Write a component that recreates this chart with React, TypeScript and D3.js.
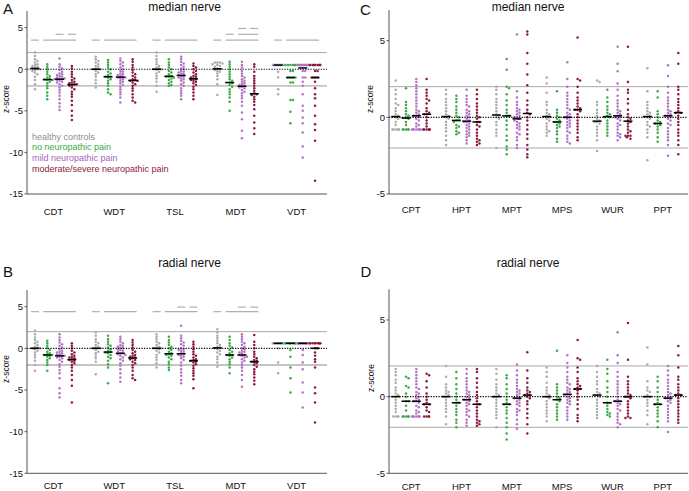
import React from 'react';
import * as d3 from 'd3';

// ---------- categories / legend ----------
const groupNames = ['healthy controls', 'no neuropathic pain', 'mild neuropathic pain', 'moderate/severe neuropathic pain'];
const dotColors = ['#ababab', '#3aab48', '#b274c6', '#8c1a40'];
const legendColors = ['#8e8e8e', '#3aab48', '#a865bd', '#8c1a40'];
const detectionTests = ['CDT', 'WDT', 'TSL', 'MDT', 'VDT'];
const painTests = ['CPT', 'HPT', 'MPT', 'MPS', 'WUR', 'PPT'];
const ticksDetection = [5, 0, -5, -10, -15];
const ticksPain = [5, 0, -5];

// ---------- A: median nerve, detection thresholds ----------
const medCDT = [
  [2.0, 1.6, 1.2, 1.0, 0.8, 0.6, 0.5, 0.4, 0.3, 0.2, 0.1, 0, 0, -0.1, -0.2, -0.4, -0.6, -0.9, -1.3, -1.8, -2.4],
  [0.6, 0.3, 0, -0.3, -0.6, -0.8, -1.0, -1.1, -1.2, -1.3, -1.3, -1.5, -1.7, -2.0, -2.3, -2.8, -3.2, -3.6],
  [1.3, 0.6, 0.3, 0.1, -0.1, -0.3, -0.5, -0.6, -0.7, -0.8, -0.9, -1.0, -1.1, -1.1, -1.2, -1.2, -1.3, -1.4, -1.5, -1.6, -1.8, -2.0, -2.2, -2.5, -2.8, -3.2, -3.6, -4.1, -4.5, -4.9],
  [0.4, 0.1, -0.3, -0.6, -0.9, -1.1, -1.3, -1.5, -1.6, -1.7, -1.8, -1.8, -1.9, -2.0, -2.2, -2.4, -2.7, -3.0, -3.3, -3.8, -4.3, -5.0, -5.6, -6.1],
];
const medWDT = [
  [1.5, 1.2, 1.0, 0.8, 0.6, 0.4, 0.3, 0.1, 0, 0, 0, -0.2, -0.4, -0.6, -0.9, -1.3, -1.7, -2.2],
  [1.1, 0.8, 0.5, 0.2, 0, -0.3, -0.5, -0.7, -0.9, -0.9, -1.0, -1.2, -1.4, -1.7, -2.0, -2.4, -2.8, -3.0],
  [1.3, 1.0, 0.8, 0.6, 0.4, 0.2, 0, -0.2, -0.3, -0.5, -0.6, -0.7, -0.8, -0.9, -1.0, -1.0, -1.1, -1.2, -1.4, -1.5, -1.7, -1.9, -2.1, -2.4, -2.7, -3.0, -3.4, -4.0],
  [1.2, 0.9, 0.5, 0.2, -0.1, -0.4, -0.6, -0.8, -1.0, -1.2, -1.3, -1.4, -1.4, -1.6, -1.8, -2.0, -2.3, -2.6, -3.0, -3.4, -3.8, -4.0],
];
const medTSL = [
  [2.0, 1.6, 1.2, 0.9, 0.6, 0.4, 0.2, 0.1, 0, 0, -0.1, -0.3, -0.5, -0.8, -1.1, -1.5, -2.0, -2.7],
  [1.2, 0.8, 0.5, 0.2, 0, -0.2, -0.4, -0.6, -0.8, -0.9, -0.9, -1.0, -1.1, -1.3, -1.5, -1.7, -1.9, -2.0],
  [1.5, 1.2, 0.9, 0.7, 0.5, 0.3, 0.1, 0, -0.2, -0.3, -0.4, -0.5, -0.6, -0.7, -0.8, -0.9, -1.0, -1.1, -1.2, -1.4, -1.6, -1.8, -2.0, -2.3, -2.6, -2.9, -3.2, -3.6],
  [0.7, 0.4, 0.2, 0, -0.2, -0.4, -0.6, -0.8, -0.9, -1.0, -1.1, -1.2, -1.3, -1.4, -1.5, -1.7, -1.9, -2.1, -2.4, -2.8, -3.2, -3.6],
];
const medMDT = [
  [0.8, 0.8, 0.8, 0.7, 0.6, 0.5, 0.4, 0.3, 0.1, 0, -0.1, -0.2, -0.3, -0.5, -0.8, -1.2, -1.8, -3.1],
  [0.9, 0.6, 0.3, 0, -0.3, -0.6, -0.9, -1.2, -1.4, -1.6, -1.7, -1.9, -2.1, -2.4, -2.7, -3.0, -3.4, -3.9, -5.0],
  [0.9, 0.5, 0.2, -0.2, -0.5, -0.8, -1.0, -1.2, -1.4, -1.5, -1.7, -1.8, -1.9, -2.0, -2.1, -2.2, -2.3, -2.5, -2.7, -2.9, -3.2, -3.5, -3.9, -4.4, -5.2, -6.0, -7.4, -8.3],
  [0.6, 0.3, -0.3, -0.8, -1.1, -1.4, -1.7, -2.0, -2.3, -2.6, -2.9, -3.0, -3.1, -3.3, -3.6, -3.9, -4.3, -4.8, -5.6, -6.4, -7.1, -7.8],
];
const medVDT = [
  [0.5, 0.5, 0.5, 0.5, 0.5, 0.5, 0.5, 0.5, 0.5, 0.5, 0.5, 0.5, 0.5, 0.5, -0.3, -1.0, -2.4, -3.0],
  [0.5, 0.5, 0.5, 0.5, 0.5, 0.5, -0.2, -0.2, -1.0, -1.0, -1.0, -1.0, -1.6, -1.6, -3.7, -3.7, -5.1, -6.5],
  [0.5, 0.5, 0.5, 0.5, 0.5, 0.5, 0.5, 0.5, 0.5, 0.5, 0.5, 0.5, 0.5, 0.5, -0.2, -0.2, -1.0, -1.0, -1.5, -2.0, -3.0, -4.4, -5.0, -5.8, -6.5, -7.6, -9.3, -10.6],
  [0.5, 0.5, 0.5, 0.5, 0.5, 0.5, 0.5, 0.5, 0.5, 0.5, -0.2, -0.2, -1.0, -1.0, -1.0, -1.5, -2.3, -3.0, -3.5, -4.4, -5.6, -6.6, -7.3, -8.6, -13.4],
];

// ---------- B: radial nerve, detection thresholds ----------
const radCDT = [
  [2.1, 1.7, 1.3, 1.0, 0.8, 0.6, 0.4, 0.2, 0.1, 0, 0, -0.1, -0.3, -0.5, -0.8, -1.1, -1.5, -2.0, -2.7],
  [0.9, 0.6, 0.3, 0, -0.2, -0.4, -0.6, -0.7, -0.8, -0.8, -0.9, -1.0, -1.2, -1.4, -1.7, -2.0, -2.7],
  [1.7, 1.3, 1.0, 0.7, 0.5, 0.3, 0.1, -0.1, -0.3, -0.4, -0.5, -0.6, -0.7, -0.8, -0.9, -0.9, -1.0, -1.1, -1.2, -1.4, -1.6, -1.9, -2.2, -2.6, -3.0, -3.6, -4.8, -5.4, -5.9],
  [0.6, 0.3, 0, -0.3, -0.5, -0.7, -0.9, -1.0, -1.1, -1.2, -1.3, -1.4, -1.5, -1.6, -1.8, -2.0, -2.3, -2.7, -3.2, -3.8, -4.5, -6.5],
];
const radWDT = [
  [1.9, 1.5, 1.1, 0.8, 0.6, 0.4, 0.2, 0.1, 0, 0, -0.2, -0.4, -0.6, -0.9, -1.2, -1.6, -3.1],
  [1.5, 1.1, 0.8, 0.5, 0.3, 0.1, -0.1, -0.3, -0.4, -0.5, -0.6, -0.8, -1.0, -1.2, -1.5, -1.9, -2.3, -4.2],
  [1.4, 1.1, 0.8, 0.6, 0.4, 0.3, 0.2, 0.1, 0, -0.1, -0.2, -0.3, -0.4, -0.6, -0.6, -0.7, -0.8, -0.9, -1.1, -1.3, -1.5, -1.8, -2.1, -2.5, -3.0, -3.5, -4.0],
  [1.0, 0.7, 0.4, 0.1, -0.2, -0.4, -0.6, -0.8, -0.9, -1.0, -1.1, -1.2, -1.3, -1.4, -1.6, -1.8, -2.0, -2.3, -2.7, -3.2, -3.6, -3.8],
];
const radTSL = [
  [1.7, 1.4, 1.1, 0.8, 0.6, 0.4, 0.2, 0.1, 0, 0, -0.1, -0.3, -0.5, -0.8, -1.1, -1.4, -1.8, -2.3],
  [1.4, 1.0, 0.7, 0.4, 0.2, 0, -0.2, -0.4, -0.6, -0.7, -0.8, -0.9, -1.1, -1.3, -1.6, -1.9, -2.3, -2.6],
  [2.7, 1.5, 1.2, 0.9, 0.7, 0.5, 0.3, 0, -0.1, -0.2, -0.3, -0.4, -0.6, -0.7, -0.8, -0.9, -1.0, -1.2, -1.4, -1.7, -2.1, -2.5, -2.9, -3.3, -3.8, -4.2],
  [0.8, 0.5, 0.2, -0.1, -0.4, -0.7, -0.9, -1.1, -1.3, -1.4, -1.5, -1.6, -1.7, -1.9, -2.1, -2.4, -2.7, -3.0, -3.3, -3.7, -4.8],
];
const radMDT = [
  [2.3, 1.9, 1.5, 1.2, 0.9, 0.6, 0.4, 0.2, 0.1, 0, -0.1, -0.3, -0.5, -0.7, -1.0, -1.3, -1.7, -2.2],
  [1.4, 1.0, 0.6, 0.3, 0.1, -0.2, -0.4, -0.6, -0.8, -0.8, -0.9, -1.1, -1.3, -1.6, -1.9, -2.3, -3.0],
  [1.7, 1.4, 1.1, 0.8, 0.6, 0.4, 0.2, 0, -0.1, -0.3, -0.4, -0.5, -0.6, -0.8, -0.8, -0.9, -1.0, -1.1, -1.3, -1.5, -1.7, -2.0, -2.3, -2.7, -3.2, -3.8, -4.6],
  [1.6, 0.8, 0.4, 0, -0.4, -0.7, -1.0, -1.2, -1.4, -1.5, -1.6, -1.7, -1.8, -2.0, -2.2, -2.5, -2.8, -3.1, -3.5, -3.9, -4.3],
];
const radVDT = [
  [0.6, 0.6, 0.6, 0.6, 0.6, 0.6, 0.6, 0.6, 0.6, 0.6, 0.6, 0.6, 0.6, 0.6, 0, -1.7, -3.0],
  [0.6, 0.6, 0.6, 0.6, 0.6, 0.6, 0.6, 0.6, 0.6, 0.6, -0.2, -1.0, -2.3, -3.6, -5.3],
  [0.6, 0.6, 0.6, 0.6, 0.6, 0.6, 0.6, 0.6, 0.6, 0.6, 0.6, 0.6, 0.6, 0.6, 0.6, 0.6, -0.2, -0.8, -1.7, -2.5, -4.1, -5.3, -7.1],
  [0.6, 0.6, 0.6, 0.6, 0.6, 0.6, 0.6, 0.6, 0.6, 0, 0, -0.5, -0.9, -1.3, -1.6, -2.3, -4.7, -5.4, -6.5, -8.9],
];

// ---------- C: median nerve, pain thresholds ----------
const medCPT = [
  [2.4, 1.8, 1.5, 1.2, 0.9, 0.8, 0.6, 0.4, 0.2, 0.1, 0, -0.1, -0.3, -0.5, -0.8, -0.8, -0.8, -0.8, -0.8, -0.8],
  [1.9, 1.0, 0.8, 0.6, 0.4, 0.2, 0.1, 0, -0.1, -0.3, -0.5, -0.8, -0.8, -0.8, -0.8, -0.8],
  [2.5, 2.3, 2.1, 1.9, 1.7, 1.5, 1.3, 1.1, 0.9, 0.7, 0.5, 0.4, 0.3, 0.2, 0.1, 0.1, 0, -0.1, -0.2, -0.4, -0.5, -0.6, -0.8, -0.8, -0.8, -0.8, -0.8, -0.8, -0.8, -0.8],
  [2.5, 1.8, 1.6, 1.4, 1.2, 1.1, 0.9, 0.6, 0.4, 0.3, 0.2, 0.2, 0, -0.2, -0.4, -0.6, -0.8, -0.8, -0.8, -0.8, -0.8, -0.8],
];
const medHPT = [
  [1.8, 1.5, 1.2, 1.0, 0.8, 0.6, 0.4, 0.2, 0.1, 0, -0.1, -0.3, -0.5, -0.7, -0.9, -1.2, -1.5, -1.8],
  [1.4, 1.2, 1.0, 0.7, 0.5, 0.3, 0.1, 0, -0.2, -0.2, -0.3, -0.5, -0.6, -0.7, -0.9, -1.0, -1.1],
  [1.8, 1.4, 1.2, 1.0, 0.8, 0.7, 0.5, 0.4, 0.3, 0.2, 0.1, 0, -0.1, -0.2, -0.3, -0.3, -0.4, -0.5, -0.6, -0.7, -0.8, -0.9, -1.0, -1.1, -1.2, -1.3, -1.5, -1.7],
  [1.8, 1.5, 1.2, 0.9, 0.7, 0.5, 0.3, 0.1, 0, -0.1, -0.3, -0.3, -0.5, -0.6, -0.8, -1.0, -1.2, -1.4, -1.5, -1.6, -1.7, -1.8],
];
const medMPT = [
  [2.0, 1.8, 1.5, 1.2, 1.0, 0.8, 0.6, 0.4, 0.2, 0.1, 0, -0.1, -0.3, -0.5, -0.8, -1.0, -1.2, -2.0],
  [3.8, 3.1, 2.0, 1.9, 1.5, 1.1, 0.8, 0.5, 0.3, 0.1, 0.1, -0.2, -0.5, -0.8, -1.2, -1.5, -1.9, -2.1, -2.4],
  [5.4, 1.7, 1.3, 1.0, 0.8, 0.6, 0.5, 0.4, 0.3, 0.2, 0.1, 0, 0, -0.1, -0.1, -0.2, -0.3, -0.4, -0.5, -0.6, -0.7, -0.8, -1.0, -1.1, -1.3, -1.5, -1.8, -2.0],
  [5.6, 5.4, 4.2, 3.5, 2.8, 2.1, 1.6, 1.1, 0.8, 0.5, 0.3, 0.2, 0, -0.2, -0.5, -0.8, -1.1, -1.4, -1.8, -2.1, -2.4, -2.6],
];
const medMPS = [
  [2.6, 2.2, 1.6, 1.0, 0.8, 0.5, 0.3, 0.2, 0.1, 0, -0.1, -0.2, -0.4, -0.6, -0.8, -0.9, -1.0, -1.2],
  [1.7, 0.5, 0.3, 0.1, 0, -0.1, -0.2, -0.3, -0.3, -0.4, -0.5, -0.6, -0.7, -0.9, -1.1, -1.4, -1.6],
  [3.6, 2.5, 2.0, 1.6, 1.4, 1.2, 1.0, 0.8, 0.6, 0.5, 0.3, 0.2, 0.1, 0, 0, -0.1, -0.2, -0.3, -0.4, -0.5, -0.6, -0.7, -0.9, -1.0, -1.2, -1.4, -1.6, -1.7],
  [5.2, 2.5, 2.4, 2.0, 1.6, 1.3, 1.1, 0.9, 0.7, 0.6, 0.5, 0.5, 0.4, 0.2, 0, -0.2, -0.4, -0.6, -0.8, -1.0, -1.3, -1.5],
];
const medWUR = [
  [2.4, 2.3, 1.0, 0.8, 0.5, 0.3, 0.1, -0.1, -0.2, -0.3, -0.3, -0.4, -0.6, -0.8, -1.0, -1.2, -1.5, -2.2],
  [1.8, 1.3, 1.0, 0.7, 0.5, 0.3, 0.2, 0.1, 0, 0, -0.2, -0.4, -0.6, -0.8, -1.0, -1.2],
  [4.6, 3.5, 3.0, 2.2, 1.8, 1.4, 1.1, 0.9, 0.7, 0.5, 0.4, 0.3, 0.2, 0.1, 0, 0, -0.1, -0.2, -0.4, -0.5, -0.6, -0.8, -1.0, -1.1, -1.2, -1.3, -1.5],
  [4.6, 2.3, 1.8, 1.6, 1.2, 0.9, 0.5, 0.2, 0, -0.1, -0.2, -0.3, -0.4, -0.6, -0.8, -0.9, -1.0, -1.2, -1.2, -1.2, -1.3, -1.4],
];
const medPPT = [
  [3.2, 1.7, 1.0, 0.8, 0.6, 0.4, 0.3, 0.2, 0.1, 0, -0.1, -0.3, -0.5, -0.6, -0.8, -1.0, -1.3, -2.8],
  [1.7, 1.3, 0.4, 0.2, 0, -0.2, -0.3, -0.4, -0.4, -0.5, -0.6, -0.8, -1.0, -1.3, -1.6],
  [3.4, 2.7, 2.0, 1.6, 1.3, 1.1, 0.9, 0.7, 0.5, 0.4, 0.3, 0.2, 0.1, 0.1, 0, -0.1, -0.2, -0.4, -0.5, -0.7, -0.9, -1.1, -1.3, -1.5, -1.8, -2.5],
  [4.2, 3.5, 2.0, 1.8, 1.5, 1.2, 1.0, 0.8, 0.6, 0.4, 0.3, 0.3, 0.1, -0.1, -0.3, -0.5, -0.8, -1.0, -1.2, -1.5, -1.8, -2.4],
];

// ---------- D: radial nerve, pain thresholds ----------
const radCPT = [
  [1.8, 1.6, 1.4, 1.1, 0.9, 0.6, 0.4, 0.2, 0.1, 0, -0.2, -0.4, -0.6, -0.8, -1.0, -1.3, -1.3, -1.3, -1.3],
  [1.3, 1.2, 0.7, 0.6, 0.2, 0, -0.3, -0.3, -0.6, -0.9, -1.3, -1.3, -1.3, -1.3, -1.3],
  [1.8, 1.6, 1.4, 1.2, 1.0, 0.8, 0.6, 0.5, 0.3, 0.2, 0.1, 0, -0.1, -0.2, -0.3, -0.3, -0.4, -0.6, -0.7, -0.9, -1.0, -1.1, -1.3, -1.3, -1.3, -1.3, -1.3, -1.3, -1.3],
  [1.5, 1.4, 1.0, 0.6, 0.2, 0, -0.2, -0.4, -0.5, -0.5, -0.7, -0.9, -1.0, -1.3, -1.3, -1.3, -1.3],
];
const radHPT = [
  [2.0, 1.3, 0.8, 0.6, 0.4, 0.3, 0.2, 0.1, 0, 0, -0.2, -0.4, -0.6, -0.8, -1.0, -1.3, -1.8],
  [1.6, 1.2, 0.8, 0.5, 0.2, 0, -0.2, -0.4, -0.4, -0.6, -0.8, -1.0, -1.2, -1.5, -1.7, -2.0],
  [1.8, 1.5, 1.2, 1.0, 0.8, 0.6, 0.4, 0.3, 0.2, 0.1, 0, -0.1, -0.2, -0.2, -0.3, -0.4, -0.5, -0.6, -0.8, -0.9, -1.0, -1.2, -1.3, -1.5, -1.7, -1.9],
  [1.8, 1.6, 1.2, 0.9, 0.6, 0.3, 0.1, -0.1, -0.3, -0.5, -0.5, -0.7, -0.9, -1.1, -1.3, -1.5, -1.6, -1.7, -1.8, -1.9],
];
const radMPT = [
  [1.8, 1.5, 1.1, 0.8, 0.6, 0.4, 0.2, 0.1, 0, 0, -0.2, -0.4, -0.6, -0.8, -1.0, -1.2, -1.4, -2.0],
  [1.4, 1.2, 0.8, 0.5, 0.2, 0, -0.2, -0.4, -0.5, -0.5, -0.7, -0.9, -1.1, -1.4, -1.7, -2.0, -2.4, -2.8],
  [2.1, 1.7, 1.4, 1.1, 0.9, 0.7, 0.5, 0.4, 0.3, 0.2, 0.1, 0, -0.1, -0.1, -0.2, -0.3, -0.4, -0.5, -0.6, -0.8, -0.9, -1.0, -1.2, -1.5, -1.8, -2.1],
  [2.9, 1.7, 1.2, 0.9, 0.6, 0.4, 0.3, 0.2, 0.1, 0.1, 0, -0.1, -0.3, -0.5, -0.8, -1.1, -1.4, -1.8, -2.4],
];
const radMPS = [
  [1.9, 1.6, 1.3, 0.9, 0.6, 0.4, 0.2, 0.1, 0, -0.1, -0.3, -0.5, -0.7, -0.9, -1.1, -1.3, -1.6],
  [3.0, 0.8, 0.6, 0.4, 0.2, 0, -0.1, -0.2, -0.3, -0.5, -0.7, -0.9, -1.1, -1.3, -1.5],
  [2.7, 2.2, 1.9, 1.6, 1.3, 1.1, 0.9, 0.8, 0.6, 0.5, 0.4, 0.3, 0.2, 0.1, 0.1, 0, -0.1, -0.2, -0.3, -0.4, -0.5, -0.7, -0.9, -1.1, -1.3, -1.5],
  [3.7, 2.5, 2.4, 1.9, 1.6, 1.2, 1.0, 0.8, 0.7, 0.6, 0.5, 0.5, 0.4, 0.2, 0, -0.2, -0.5, -0.8, -1.2, -1.4, -1.6],
];
const radWUR = [
  [2.0, 1.6, 1.3, 1.0, 0.8, 0.5, 0.3, 0.2, 0.1, 0.1, 0, -0.2, -0.4, -0.6, -0.8, -1.0, -1.2, -1.4],
  [2.4, 1.8, 1.5, 1.0, 0.6, 0.3, 0, -0.4, -0.4, -0.6, -0.8, -1.0, -1.1, -1.2, -1.3],
  [4.2, 2.7, 2.2, 1.6, 1.3, 1.0, 0.8, 0.6, 0.4, 0.2, 0, -0.2, -0.3, -0.3, -0.4, -0.5, -0.6, -0.8, -0.9, -1.1, -1.3, -1.5, -1.7, -1.8, -2.0],
  [4.8, 2.4, 1.3, 1.0, 0.8, 0.6, 0.4, 0.2, 0.1, 0, 0, -0.1, -0.3, -0.5, -0.7, -0.9, -1.1, -1.3, -1.4, -1.4],
];
const radPPT = [
  [3.2, 2.1, 1.0, 0.6, 0.4, 0.3, 0.1, 0, 0, -0.2, -0.4, -0.6, -0.9, -1.2, -1.8],
  [1.3, 1.0, 0.6, 0.3, 0, -0.2, -0.4, -0.5, -0.5, -0.7, -0.9, -1.1, -1.3, -1.6, -2.0],
  [2.0, 1.7, 1.4, 1.1, 0.9, 0.7, 0.5, 0.3, 0.2, 0.1, 0, -0.1, -0.1, -0.2, -0.3, -0.4, -0.6, -0.8, -1.0, -1.2, -1.4, -1.6, -2.3],
  [3.3, 2.7, 1.9, 1.3, 1.1, 0.8, 0.6, 0.4, 0.2, 0.1, 0.1, -0.1, -0.3, -0.5, -0.7, -0.9, -1.1, -1.3, -1.5, -1.7],
];

// ---------- significance markers: [test, fromGroup, toGroup, level] ----------
const sigMedian: [string, number, number, number][] = [
  ['CDT', 0, 0, 0], ['CDT', 1, 3, 0], ['CDT', 2, 2, 1], ['CDT', 3, 3, 1],
  ['WDT', 0, 0, 0], ['WDT', 1, 3, 0],
  ['TSL', 0, 0, 0], ['TSL', 1, 3, 0],
  ['MDT', 0, 0, 0], ['MDT', 1, 3, 0], ['MDT', 1, 1, 1], ['MDT', 2, 3, 1], ['MDT', 2, 2, 2], ['MDT', 3, 3, 2],
  ['VDT', 0, 0, 0], ['VDT', 1, 3, 0],
];
const sigRadial: [string, number, number, number][] = [
  ['CDT', 0, 0, 0], ['CDT', 1, 3, 0],
  ['WDT', 0, 0, 0], ['WDT', 1, 3, 0],
  ['TSL', 0, 0, 0], ['TSL', 1, 3, 0], ['TSL', 2, 2, 1], ['TSL', 3, 3, 1],
  ['MDT', 0, 0, 0], ['MDT', 1, 3, 0], ['MDT', 2, 2, 1], ['MDT', 3, 3, 1],
];
const sigLevelsMedian = [3.5, 4.2, 4.9];
const sigLevelsRadial = [4.4, 4.95];

const FONT = '"Liberation Sans", Arial, Helvetica, sans-serif';

type Pt = { x: number; y: number };

function swarm(values: number[], y: (v: number) => number, cx: number, maxW: number, d: number): Pt[] {
  const ys = values.map(y).sort((a, b) => a - b);
  const placed: Pt[] = [];
  const cands: number[] = [0];
  for (let k = 1; k * d <= maxW + 0.01; k++) { cands.push(k * d, -k * d); }
  ys.forEach((py, i) => {
    let chosen: number | null = null;
    for (const c of cands) {
      const ok = placed.every(p => Math.abs(p.y - py) >= d * 0.95 || Math.abs(p.x - (cx + c)) >= d * 0.95);
      if (ok) { chosen = c; break; }
    }
    if (chosen === null) {
      // spread into a compressed row
      const near = placed.filter(p => Math.abs(p.y - py) < d * 0.6).length;
      const n = near + 1;
      const step = Math.min(d, (2 * maxW) / 8);
      const idx = n % 9;
      chosen = (idx % 2 === 0 ? 1 : -1) * Math.ceil(idx / 2) * step;
    }
    placed.push({ x: cx + chosen, y: py });
  });
  return placed;
}

type PanelProps = {
  letter: string; letterX: number; letterY: number;
  title: string; titleX: number; titleY: number;
  tests: string[]; data: number[][][];
  axisX: number; xRange: [number, number]; groupStep: number;
  yDomain: [number, number]; yRange: [number, number]; ticks: number[];
  catLabelY: number; zLabelX: number; zLabelY: number;
  sig?: [string, number, number, number][]; sigLevels?: number[];
  legend?: boolean; thickLower?: boolean;
};

function Panel(p: PanelProps) {
  const y = d3.scaleLinear().domain(p.yDomain).range(p.yRange);
  const xb = d3.scaleBand().domain(p.tests).range(p.xRange);
  const gx = (t: string, g: number) => (xb(t) as number) + xb.bandwidth() / 2 + (g - 1.5) * p.groupStep;
  const right = p.xRange[1];
  const bottom = p.yRange[0];
  const top = p.yRange[1];
  return (
    <g>
      <text x={p.letterX} y={p.letterY} fontSize={15} fontFamily={FONT} fill="#111">{p.letter}</text>
      <text x={p.titleX} y={p.titleY} fontSize={12} fontFamily={FONT} textAnchor="middle" fill="#111">{p.title}</text>
      {/* reference lines */}
      <line x1={p.axisX} x2={right} y1={y(2)} y2={y(2)} stroke="#a9a9a9" strokeWidth={1} />
      <line x1={p.axisX} x2={right} y1={y(-2)} y2={y(-2)} stroke={p.thickLower ? '#c4c4c4' : '#a9a9a9'} strokeWidth={p.thickLower ? 1.8 : 1} />
      {/* significance */}
      {p.sig && p.sig.map(([t, a, b, lv], i) => (
        <line key={'s' + i} x1={gx(t, a) - 4} x2={gx(t, b) + 4} y1={y(p.sigLevels![lv])} y2={y(p.sigLevels![lv])} stroke="#b0b0b0" strokeWidth={1.2} />
      ))}
      {/* dots */}
      {p.tests.map((t, ti) => p.data[ti].map((vals, g) => {
        const pts = swarm(vals, y, gx(t, g), p.groupStep * 0.42, 2.5);
        return pts.map((pt, k) => (
          <circle key={t + g + '_' + k} cx={pt.x} cy={pt.y} r={1.25} fill={dotColors[g]} />
        ));
      }))}
      {/* zero line */}
      <line x1={p.axisX} x2={right} y1={y(0)} y2={y(0)} stroke="#111" strokeWidth={1.2} strokeDasharray="1.3,1.3" />
      {/* medians */}
      {p.tests.map((t, ti) => p.data[ti].map((vals, g) => {
        const m = d3.median(vals) as number;
        const cx = gx(t, g);
        return <line key={'m' + t + g} x1={cx - 4.5} x2={cx + 4.5} y1={y(m)} y2={y(m)} stroke="#000" strokeWidth={1.5} />;
      }))}
      {/* axes */}
      <line x1={p.axisX} x2={p.axisX} y1={top} y2={bottom} stroke="#555" strokeWidth={1} />
      <line x1={p.axisX} x2={right} y1={bottom} y2={bottom} stroke="#555" strokeWidth={1} />
      {p.ticks.map(v => (
        <g key={'t' + v}>
          <line x1={p.axisX - 2.5} x2={p.axisX} y1={y(v)} y2={y(v)} stroke="#555" />
          <text x={p.axisX - 4} y={y(v) + 3.3} fontSize={9.5} fontFamily={FONT} textAnchor="end" fill="#111">{v}</text>
        </g>
      ))}
      {p.tests.map(t => (
        <text key={'c' + t} x={(xb(t) as number) + xb.bandwidth() / 2} y={p.catLabelY} fontSize={9.5} fontFamily={FONT} textAnchor="middle" fill="#111">{t}</text>
      ))}
      <text transform={`translate(${p.zLabelX},${p.zLabelY}) rotate(-90)`} fontSize={8.5} fontFamily={FONT} textAnchor="middle" fill="#111">z-score</text>
      {p.legend && groupNames.map((n, i) => (
        <text key={'l' + i} x={p.axisX + 5} y={139.5 + i * 10.7} fontSize={9} fontFamily={FONT} fill={legendColors[i]}>{n}</text>
      ))}
    </g>
  );
}

export default function App() {
  return (
    <svg width={689} height={491} style={{ position: 'absolute', left: 0, top: 0, background: '#fff' }}>
      <Panel letter="A" letterX={3} letterY={14} title="median nerve" titleX={184.5} titleY={11}
        tests={detectionTests} data={[medCDT, medWDT, medTSL, medMDT, medVDT]}
        axisX={27} xRange={[23, 327]} groupStep={12.3}
        yDomain={[-15, 7]} yRange={[194, 11]} ticks={ticksDetection}
        catLabelY={215} zLabelX={8.5} zLabelY={99}
        sig={sigMedian} sigLevels={sigLevelsMedian} legend thickLower />
      <Panel letter="B" letterX={3} letterY={277} title="radial nerve" titleX={189.5} titleY={267}
        tests={detectionTests} data={[radCDT, radWDT, radTSL, radMDT, radVDT]}
        axisX={27} xRange={[23, 327]} groupStep={12.3}
        yDomain={[-15, 7]} yRange={[473.3, 290]} ticks={ticksDetection}
        catLabelY={488.5} zLabelX={8.5} zLabelY={369}
        sig={sigRadial} sigLevels={sigLevelsRadial} thickLower />
      <Panel letter="C" letterX={360} letterY={15} title="median nerve" titleX={528} titleY={11}
        tests={painTests} data={[medCPT, medHPT, medMPT, medMPS, medWUR, medPPT]}
        axisX={389} xRange={[386, 688]} groupStep={10.3}
        yDomain={[-5, 7]} yRange={[194, 10]} ticks={ticksPain}
        catLabelY={213} zLabelX={373} zLabelY={99} />
      <Panel letter="D" letterX={360.5} letterY={277} title="radial nerve" titleX={528} titleY={267}
        tests={painTests} data={[radCPT, radHPT, radMPT, radMPS, radWUR, radPPT]}
        axisX={389} xRange={[386, 688]} groupStep={10.3}
        yDomain={[-5, 7]} yRange={[473.3, 289.3]} ticks={ticksPain}
        catLabelY={490} zLabelX={374} zLabelY={378} />
    </svg>
  );
}
